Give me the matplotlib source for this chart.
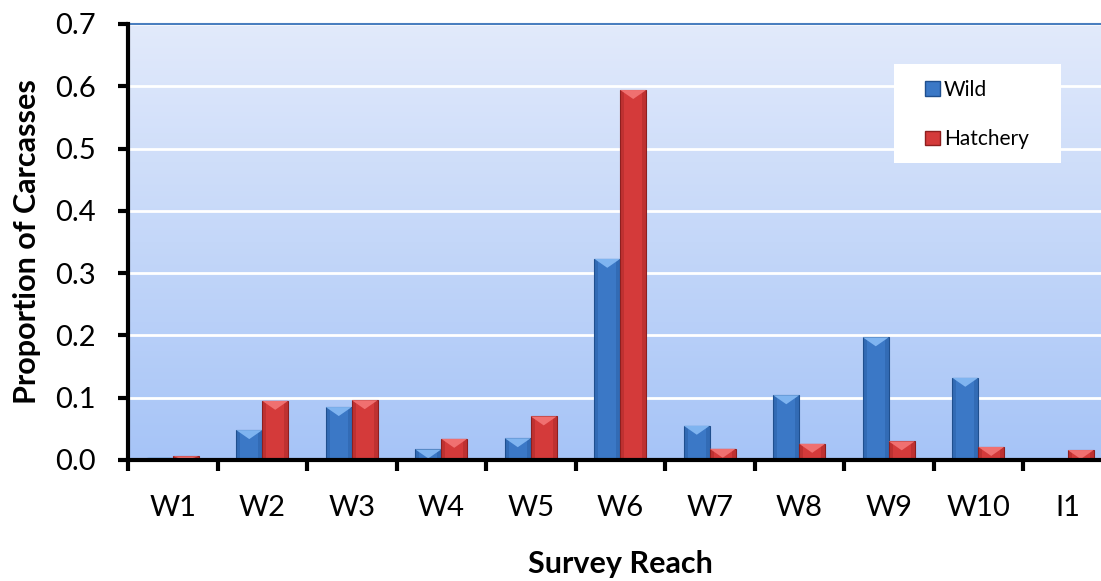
import numpy as np
import matplotlib
matplotlib.use("Agg")
import matplotlib.pyplot as plt
from matplotlib.patches import Polygon, Rectangle

plt.rcParams["font.family"] = ["Lato", "DejaVu Sans"]

# ── 데이터 ──────────────────────────────────────────────
reaches = ["W1", "W2", "W3", "W4", "W5", "W6", "W7", "W8", "W9", "W10", "I1"]
wild = [0.004, 0.048, 0.085, 0.017, 0.035, 0.323, 0.055, 0.104, 0.197, 0.132, 0.0]
hatchery = [0.006, 0.095, 0.096, 0.034, 0.070, 0.594, 0.018, 0.026, 0.030, 0.021, 0.016]

W, H = 1101, 581
ax_w, ax_h = 11 * 89.5, 436
fig = plt.figure(figsize=(W / 100, H / 100), dpi=100)
ax = fig.add_axes([128 / W, 1 - 460 / H, ax_w / W, ax_h / H])

ax.set_xlim(0, len(reaches))
ax.set_ylim(0, 0.7)

# 배경 그라디언트
grad = np.linspace(0, 1, 256).reshape(-1, 1)
top_c = np.array([226, 234, 251]) / 255
bot_c = np.array([166, 196, 247]) / 255
img = top_c + (bot_c - top_c) * grad[:, :, None] * np.ones((1, 2, 1))
ax.imshow(img, extent=[0, len(reaches), 0, 0.7], aspect="auto", zorder=0, origin="upper")

for yv in np.arange(0.1, 0.71, 0.1):
    ax.axhline(yv, color="white", lw=2, zorder=1)

bw = 0.29
bev = 9 / 623  # 베벨 깊이 (데이터 단위)


def bevel_bar(x0, h, base, light, dark):
    if h <= 0:
        return
    ax.add_patch(Rectangle((x0, 0), bw, h, facecolor=base, edgecolor=dark, lw=0.8, zorder=3))
    ax.add_patch(Rectangle((x0, 0), bw * 0.15, h, facecolor=dark, edgecolor="none", alpha=0.3, zorder=3))
    ax.add_patch(Rectangle((x0 + bw * 0.85, 0), bw * 0.15, h, facecolor=dark, edgecolor="none", alpha=0.3, zorder=3))
    d = min(bev, h)
    ax.add_patch(Polygon([(x0, h), (x0 + bw, h), (x0 + bw / 2, h - d)],
                         closed=True, facecolor=light, edgecolor="none", zorder=4))


for i, (w, hv) in enumerate(zip(wild, hatchery)):
    c = i + 0.5
    bevel_bar(c - bw, w, "#3b78c6", "#7fb4f0", "#1f4f8e")
    bevel_bar(c, hv, "#d43a3a", "#f07070", "#8e1f1f")

# 축 스타일
ax.spines["right"].set_visible(False)
ax.spines["top"].set_color("#4a7ebf")
ax.spines["top"].set_linewidth(1.5)
ax.spines["left"].set_linewidth(3)
ax.spines["bottom"].set_linewidth(3)
ax.spines["left"].set_zorder(6)
ax.spines["bottom"].set_zorder(6)

yt = np.arange(0, 0.71, 0.1)
ax.set_yticks(yt)
ax.set_yticklabels([f"{v:.1f}" for v in yt], fontsize=21)
ax.tick_params(axis="y", direction="out", length=7, width=3, pad=16)

ax.set_xticks(np.arange(0, len(reaches) + 1))
ax.set_xticklabels([])
ax.set_xticks(np.arange(len(reaches)) + 0.5, minor=True)
ax.set_xticklabels(reaches, minor=True, fontsize=21)
ax.tick_params(axis="x", which="major", direction="out", length=8, width=3)
ax.tick_params(axis="x", which="minor", length=0, pad=25)

ax.set_xlabel("Survey Reach", fontsize=22, fontweight="bold", labelpad=21)
ax.set_ylabel("Proportion of Carcasses", fontsize=22, fontweight="bold", labelpad=10)

# 범례 (흰 상자는 따로 그림)
ax.add_patch(Rectangle(((894 - 128) / ax_w, 1 - (163 - 24) / ax_h), (1061 - 894) / ax_w, 99 / ax_h,
                       transform=ax.transAxes, facecolor="white", edgecolor="none", zorder=7))
handles = [
    Rectangle((0, 0), 1, 1, facecolor="#3b78c6", edgecolor="#1f4f8e"),
    Rectangle((0, 0), 1, 1, facecolor="#d43a3a", edgecolor="#8e1f1f"),
]
leg = ax.legend(handles, ["Wild", "Hatchery"], loc="upper left",
                bbox_to_anchor=((925 - 128) / ax_w, 1 - (80 - 24) / ax_h),
                frameon=False, fontsize=15, labelspacing=1.4,
                handlelength=0.7, handleheight=0.7, handletextpad=0.2,
                borderpad=0, borderaxespad=0)
leg.set_zorder(8)

fig.savefig("out.png", dpi=100)
